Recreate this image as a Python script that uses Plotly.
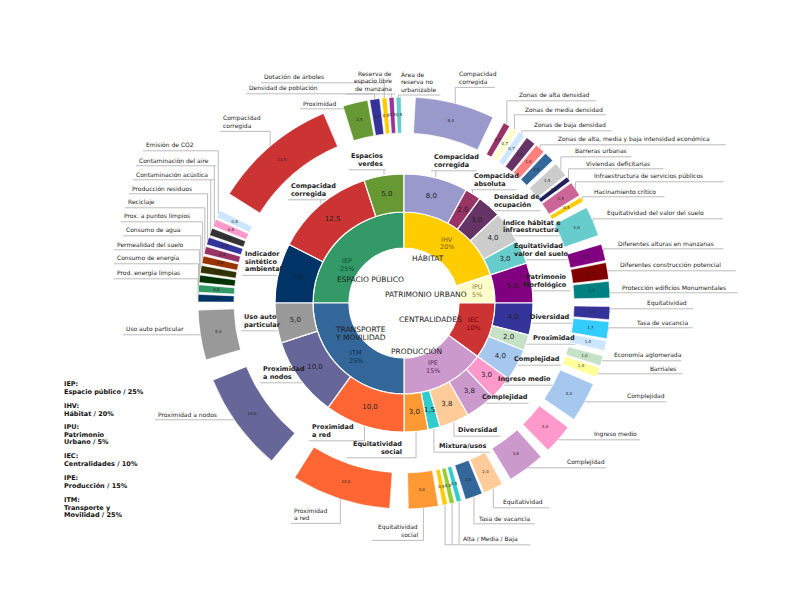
import math
import plotly.graph_objects as go

# page body has an 8px margin: figure is sized to fit the 795x615 window
OFF = 8
FW, FH = 795 - 2 * OFF, 615 - 2 * OFF
CX, CY = 404, 303          # screen pixel centre of the rings
R_MAX = 206
FONT = "DejaVu Sans, Verdana, sans-serif"

# ---------------- DATA ----------------
group_codes = ["IEP", "IHV", "IPU", "IEC", "IPE", "ITM"]
group_weights = [25, 20, 5, 10, 15, 25]
group_colors = ["#339966", "#ffcc00", "#ffffcc", "#cc3333", "#cc99cc", "#336699"]
group_text_colors = ["#0b4a2a", "#7a5c00", "#8a7a3a", "#7a0000", "#5e2a5e", "#0d2c52"]
group_titles = ["ESPACIO PÚBLICO", "HÁBITAT", "PATRIMONIO URBANO", "CENTRALIDADES",
                "PRODUCCIÓN", "TRANSPORTE<br>Y MOVILIDAD"]
legend_lines = ["IEP:<br>Espacio público / 25%", "IHV:<br>Hábitat / 20%",
                "IPU:<br>Patrimonio<br>Urbano / 5%", "IEC:<br>Centralidades / 10%",
                "IPE:<br>Producción / 15%", "ITM:<br>Transporte y<br>Movilidad / 25%"]

mid_names = ["Indicador sintético ambiental", "Compacidad corregida", "Espacios verdes",
             "Compacidad corregida", "Compacidad absoluta", "Densidad de ocupación",
             "Índice hábitat e infraestructura", "Equitatividad valor del suelo",
             "Patrimonio Morfológico", "Diversidad", "Proximidad", "Complejidad",
             "Ingreso medio", "Complejidad", "Diversidad", "Mixtura/usos",
             "Equitatividad social", "Proximidad a red", "Proximidad a nodos",
             "Uso auto particular"]
mid_values = [7.5, 12.5, 5.0, 8.0, 2.0, 3.0, 4.0, 3.0, 5.0, 4.0, 2.0, 4.0,
              3.0, 3.75, 3.75, 1.5, 3.0, 10.0, 10.0, 5.0]
mid_colors = ["#003366", "#cc3333", "#669933", "#9999cc", "#993366", "#663366",
              "#cccccc", "#66cccc", "#800080", "#333399", "#c6e2c6", "#a6c8ee",
              "#ff99cc", "#cc99cc", "#ffcc99", "#33cccc", "#ff9933", "#ff6633",
              "#666699", "#999999"]

outer_parent = [0] * 10 + [1] + [2] * 5 + [3] + [4] * 3 + [5] * 3 + [6] * 4 + [7] \
    + [8] * 3 + [9] * 3 + [10] * 2 + [11] + [12] + [13] + [14] * 2 + [15] * 3 \
    + [16] + [17] + [18] + [19]
outer_names = ["Prod. energía limpias", "Consumo de energía", "Permealidad del suelo",
               "Consumo de agua", "Prox. a puntos limpios", "Reciclaje",
               "Producción residuos", "Contaminación acústica", "Contaminación del aire",
               "Emisión de CO2",
               "Compacidad corregida",
               "Proximidad", "Densidad de población", "Dotación de árboles",
               "Reserva de espacio libre de manzana", "Área de reserva no urbanizable",
               "Compacidad corregida",
               "Zonas de alta densidad", "Zonas de media densidad", "Zonas de baja densidad",
               "Zonas de alta intensidad económica", "Zonas de media intensidad económica",
               "Zonas de baja intensidad económica",
               "Barreras urbanas", "Viviendas deficitarias",
               "Infraestructura de servicios públicos", "Hacinamiento crítico",
               "Equitatividad del valor del suelo",
               "Diferentes alturas en manzanas", "Diferentes construcción potencial",
               "Protección edificios Monumentales",
               "Equitatividad", "Tasa de vacancia", "",
               "Economía aglomerada", "Barriales",
               "Complejidad", "Ingreso medio", "Complejidad",
               "Equitatividad", "Tasa de vacancia",
               "Alta", "Media", "Baja",
               "Equitatividad social", "Proximidad a red", "Proximidad a nodos",
               "Uso auto particular"]
outer_values = [0.75] * 10 + [12.5] + [2.5, 1.0, 0.5, 0.5, 0.5] + [8.0] \
    + [0.67, 0.67, 0.66] + [1.0, 1.0, 1.0] + [1.5, 0.5, 1.5, 0.5] + [3.0] \
    + [1.67, 1.67, 1.66] + [1.3, 1.7, 1.0] + [1.0, 1.0] + [4.0] + [3.0] + [3.75] \
    + [2.0, 1.75] + [0.5, 0.5, 0.5] + [3.0] + [10.0] + [10.0] + [5.0]
outer_colors = ["#003366", "#339966", "#003300", "#333300", "#993300", "#993366",
                "#333399", "#333333", "#ff99cc", "#cce6ff",
                "#cc3333",
                "#669933", "#333399", "#ffcc00", "#993399", "#66cccc",
                "#9999cc",
                "#993366", "#ffffcc", "#cce6ff",
                "#663366", "#ff7f7f", "#336699",
                "#cccccc", "#1f1f5c", "#cc6699", "#ffcc00",
                "#66cccc",
                "#800080", "#800000", "#008080",
                "#333399", "#33ccff", "#cce6ff",
                "#c6e2c6", "#ffff99",
                "#a6c8ee", "#ff99cc", "#cc99cc",
                "#ffcc99", "#336699",
                "#33cccc", "#99cc33", "#ffcc00",
                "#ff9933", "#ff6633", "#666699", "#999999"]

# ---------------- LAYOUT HELPERS ----------------
DEG_PER_UNIT = 3.6
START = 270.0


def fmt(v):
    return f"{v:.1f}".replace(".", ",")


g_cent, g_wid = [], []
a = START
for w in group_weights:
    g_cent.append(a + w * DEG_PER_UNIT / 2)
    g_wid.append(w * DEG_PER_UNIT)
    a += w * DEG_PER_UNIT

m_cent, m_wid = [], []
a = START
for v in mid_values:
    m_cent.append(a + v * DEG_PER_UNIT / 2)
    m_wid.append(v * DEG_PER_UNIT)
    a += v * DEG_PER_UNIT

K_OUT, GAP = 2.8, 0.6
o_cent = [0.0] * len(outer_values)
o_wid = [0.0] * len(outer_values)
for p in range(len(mid_values)):
    kids = [i for i, q in enumerate(outer_parent) if q == p]
    total = sum(outer_values[i] for i in kids) * K_OUT + (len(kids) - 1) * GAP
    a = m_cent[p] - total / 2
    for i in kids:
        w = outer_values[i] * K_OUT
        o_cent[i] = a + w / 2
        o_wid[i] = w
        a += w + GAP

R_IN0, R_IN1 = 55, 91
R_MID0, R_MID1 = 91, 129
R_OUT0, R_OUT1 = 170, 206

fig = go.Figure()
fig.add_trace(go.Barpolar(theta=g_cent, width=g_wid, r=[R_IN1 - R_IN0] * 6, base=R_IN0,
                          marker=dict(color=group_colors, line=dict(color="white", width=1.2)),
                          hovertext=group_codes, showlegend=False))
fig.add_trace(go.Barpolar(theta=m_cent, width=m_wid, r=[R_MID1 - R_MID0] * len(mid_values),
                          base=R_MID0,
                          marker=dict(color=mid_colors, line=dict(color="white", width=1.2)),
                          hovertext=mid_names, showlegend=False))
fig.add_trace(go.Barpolar(theta=o_cent, width=o_wid, r=[R_OUT1 - R_OUT0] * len(outer_values),
                          base=R_OUT0,
                          marker=dict(color=outer_colors, line=dict(color="white", width=0.6)),
                          hovertext=outer_names, showlegend=False))

fig.add_trace(go.Scatterpolar(r=[110] * len(mid_values), theta=m_cent, mode="text",
                              text=[fmt(v) for v in mid_values],
                              textfont=dict(family=FONT, size=7, color="#222222"),
                              showlegend=False, hoverinfo="skip"))
fig.add_trace(go.Scatterpolar(r=[188] * len(outer_values), theta=o_cent, mode="text",
                              text=[fmt(v) for v in outer_values],
                              textfont=dict(family=FONT, size=4, color="#222222"),
                              showlegend=False, hoverinfo="skip"))

fcx, fcy = CX - OFF, CY - OFF
fig.update_layout(
    width=FW, height=FH, margin=dict(l=0, r=0, t=0, b=0),
    paper_bgcolor="white", plot_bgcolor="white", showlegend=False,
    polar=dict(
        domain=dict(x=[(fcx - R_MAX) / FW, (fcx + R_MAX) / FW],
                    y=[1 - (fcy + R_MAX) / FH, 1 - (fcy - R_MAX) / FH]),
        bgcolor="rgba(0,0,0,0)", hole=0,
        radialaxis=dict(range=[0, R_MAX], visible=False),
        angularaxis=dict(rotation=90, direction="clockwise", visible=False,
                         showgrid=False, showline=False, showticklabels=False),
    ),
)


def px2paper(x, y):
    return (x - OFF) / FW, 1 - (y - OFF) / FH


def pol2px(r, th):
    t = math.radians(th)
    return CX + r * math.sin(t), CY - r * math.cos(t)


annotations = []
shapes = []
LINE_COL = "#b4b4b4"


def add_text(text, x, y, size, bold=False, anchor="left", color="#222222"):
    px, py = px2paper(x, y)
    annotations.append(dict(x=px, y=py, xref="paper", yref="paper", showarrow=False,
                            text=f"<b>{text}</b>" if bold else text, xanchor=anchor,
                            yanchor="middle", align=anchor, borderpad=0,
                            font=dict(family=FONT, size=size, color=color)))


def add_lines(text, x, y_first, size, bold, anchor, color="#222222", pitch=7.6):
    for k, line in enumerate(text.split("<br>")):
        add_text(line, x, y_first + k * pitch, size, bold, anchor, color)


def add_line(x0, y0, x1, y1):
    a0, b0 = px2paper(x0, y0)
    a1, b1 = px2paper(x1, y1)
    shapes.append(dict(type="line", xref="paper", yref="paper", x0=a0, y0=b0, x1=a1, y1=b1,
                       line=dict(color=LINE_COL, width=0.9), layer="below"))


def label(text, x, y_first, anchor, size, bold, targets, skip_inside=False, pitch=7.6):
    lines = text.split("<br>")
    n = len(lines)
    cw = 0.64 if bold else 0.58
    wtxt = max(len(l) for l in lines) * size * cw
    add_lines(text, x, y_first, size, bold, anchor, pitch=pitch)
    left = x if anchor == "left" else x - wtxt
    right = x + wtxt if anchor == "left" else x
    yu = y_first + (n - 1) * pitch + size * 0.8 + 1
    txs = [t[0] for t in targets]
    ul = min([left - 2] + txs)
    ur = max([right + 2] + txs)
    inside = all(left - 2 <= tx <= right + 2 for tx in txs)
    add_line(ul, yu, ur, yu)
    for tx, ty in targets:
        if skip_inside and inside and ty < yu:
            continue
        add_line(tx, yu, tx, ty)


mid_label_specs = [
    (0, "Indicador<br>sintético<br>ambiental", 244, 254, "left"),
    (1, "Compacidad<br>corregida", 290, 186, "left"),
    (2, "Espacios<br>verdes", 384, 156, "right"),
    (3, "Compacidad<br>corregida", 433, 157, "left"),
    (4, "Compacidad<br>absoluta", 473, 176, "left"),
    (5, "Densidad de<br>ocupación", 493, 197, "left"),
    (6, "Índice hábitat e<br>infraestructura", 502, 222, "left"),
    (7, "Equitatividad<br>valor del suelo", 513, 246, "left"),
    (8, "Patrimonio<br>Morfológico", 568, 277, "right"),
    (9, "Diversidad", 529, 317, "left"),
    (10, "Proximidad", 532, 338, "left"),
    (11, "Complejidad", 513, 359, "left"),
    (12, "Ingreso medio", 497, 379, "left"),
    (13, "Complejidad", 481, 397, "left"),
    (14, "Diversidad", 457, 430, "left"),
    (15, "Mixtura/usos", 438, 446, "left"),
    (16, "Equitatividad<br>social", 403, 444, "right"),
    (17, "Proximidad<br>a red", 311, 427, "left"),
    (18, "Proximidad<br>a nodos", 262, 369, "left"),
    (19, "Uso auto<br>particular", 243, 317, "left"),
]
for idx, text, x, y, anc in mid_label_specs:
    label(text, x, y, anc, 6.5, True, [pol2px(R_MID1 - 1, m_cent[idx])], skip_inside=True)

outer_label_specs = [
    ([10], "Compacidad<br>corregida", 222, 118, "left"),
    ([11], "Proximidad", 302, 103, "left"),
    ([12], "Densidad de población", 248, 88, "left"),
    ([13], "Dotación de árboles", 263, 77, "left"),
    ([14], "Reserva de<br>espacio libre<br>de manzana", 393, 73, "right"),
    ([15], "Área de<br>reserva no<br>urbanizable", 400, 74, "left"),
    ([9], "Emisión de CO2", 145, 145, "left"),
    ([8], "Contaminación del aire", 138, 160, "left"),
    ([7], "Contaminación acústica", 135, 174, "left"),
    ([6], "Producción residuos", 131, 188, "left"),
    ([5], "Reciclaje", 127, 202, "left"),
    ([4], "Prox. a puntos limpios", 123, 216, "left"),
    ([3], "Consumo de agua", 125, 230, "left"),
    ([2], "Permealidad del suelo", 116, 244, "left"),
    ([1], "Consumo de energía", 116, 258, "left"),
    ([0], "Prod. energía limpias", 116, 273, "left"),
    ([47], "Uso auto particular", 125, 329, "left"),
    ([46], "Proximidad a nodos", 157, 414, "left"),
    ([45], "Proximidad<br>a red", 293, 510, "left"),
    ([44], "Equitatividad<br>social", 419, 527, "right"),
    ([41, 42, 43], "Alta / Media / Baja", 462, 539, "left"),
    ([40], "Tasa de vacancia", 477, 518, "left"),
    ([39], "Equitatividad", 502, 502, "left"),
    ([38], "Complejidad", 566, 462, "left"),
    ([37], "Ingreso medio", 593, 434, "left"),
    ([36], "Complejidad", 626, 396, "left"),
    ([35], "Barriales", 649, 368, "left"),
    ([34], "Economía aglomerada", 613, 355, "left"),
    ([32], "Tasa de vacancia", 635, 322, "left"),
    ([31], "Equitatividad", 646, 303, "left"),
    ([30], "Protección edificios Monumentales", 621, 287, "left"),
    ([29], "Diferentes construcción potencial", 619, 265, "left"),
    ([28], "Diferentes alturas en manzanas", 617, 243, "left"),
    ([27], "Equitatividad del valor del suelo", 606, 213, "left"),
    ([26], "Hacinamiento crítico", 593, 191, "left"),
    ([25], "Infraestructura de servicios públicos", 593, 176, "left"),
    ([24], "Viviendas deficitarias", 585, 163, "left"),
    ([23], "Barreras urbanas", 574, 151, "left"),
    ([21], "Zonas de alta, media y baja intensidad económica", 557, 139, "left"),
    ([19], "Zonas de baja densidad", 533, 125, "left"),
    ([18], "Zonas de media densidad", 524, 109, "left"),
    ([17], "Zonas de alta densidad", 518, 95, "left"),
    ([16], "Compacidad<br>corregida", 458, 74, "left"),
]
for idxs, text, x, y, anc in outer_label_specs:
    label(text, x, y, anc, 6, False, [pol2px(R_OUT1, o_cent[i]) for i in idxs])

# inner code labels
inner_pos = [(347, 261), (447, 240), (477, 287), (473, 320), (433, 363), (356, 353)]
for i, (x, y) in enumerate(inner_pos):
    add_lines(f"{group_codes[i]}<br>{group_weights[i]}%", x, y, 6.5, False, "center",
              group_text_colors[i], pitch=7.5)

# centre titles
title_pos = [(370, 279), (428, 258), (426, 294), (430, 319), (416, 351), (360, 329)]
for i, (x, y) in enumerate(title_pos):
    add_lines(group_titles[i], x, y, 7.5, False, "center", "#222222", pitch=8.5)

# legend block
legend_y = [384, 406, 427, 456, 478, 500]
for t, y in zip(legend_lines, legend_y):
    add_lines(t, 63, y, 6.5, True, "left", "#111111", pitch=7.5)

fig.update_layout(annotations=annotations, shapes=shapes)
fig.write_html("out.html")
